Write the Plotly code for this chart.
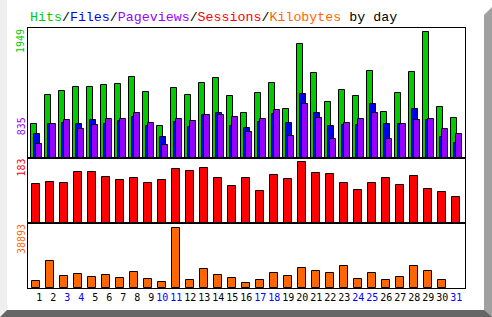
import plotly.graph_objects as go
from plotly.subplots import make_subplots

days = list(range(1, 32))
weekend_days = [3, 4, 10, 11, 17, 18, 24, 25, 31]

hits = [522, 972, 1034, 1096, 1096, 1127, 1143, 1251, 1019, 491, 1081, 972, 1158, 1236, 957,
        693, 1003, 1158, 755, 1763, 1313, 864, 1050, 957, 1344, 709, 1003, 1329, 1949, 786, 615]
files = [367, 522, 538, 522, 584, 522, 569, 631, 491, 321, 553, 476, 662, 693, 491,
         460, 553, 678, 538, 988, 693, 491, 507, 507, 833, 522, 522, 755, 584, 321, 228]
pageviews = [212, 522, 584, 445, 507, 600, 600, 693, 538, 197, 600, 569, 662, 662, 631,
             398, 600, 740, 336, 835, 615, 290, 538, 600, 693, 290, 522, 584, 600, 445, 367]
sessions = [118, 123, 120, 153, 153, 138, 129, 135, 120, 129, 162, 156, 165, 135, 111,
            135, 96, 144, 132, 183, 150, 147, 120, 99, 120, 135, 114, 141, 102, 93, 78]
kilobytes = [4765, 17644, 7985, 9273, 7341, 8629, 6697, 10560, 6053, 4121, 38893, 5409, 12492, 8629, 6697,
             3477, 5409, 9917, 7985, 13136, 11204, 9917, 14424, 6053, 9917, 5409, 7341, 14424, 11204, 5409, 0]

W, H = 492, 317
C_HITS = "#00cc00"
C_FILES = "#0000ee"
C_PAGES = "#9900ff"
C_SESS = "#ff0000"
C_KB = "#ff6600"
C_WEEKEND = "#0000ff"

# pixel geometry
PX_LEFT, PX_RIGHT = 28, 465
P1 = (28, 158)
P2 = (158, 223)
P3 = (223, 288)
UNIT = 14.0  # px per day
DAY1_CENTER = 36.3


def ydom(p):
    return [1 - p[1] / H, 1 - p[0] / H]


def outline(vals):
    return dict(color="black", width=[1 if v > 0 else 0 for v in vals])


fig = make_subplots(rows=3, cols=1, shared_xaxes=True, vertical_spacing=0)

fig.add_trace(go.Bar(x=days, y=hits, marker=dict(color=C_HITS, line=outline(hits)),
                     width=6 / UNIT, offset=-5 / UNIT), row=1, col=1)
fig.add_trace(go.Bar(x=days, y=files, marker=dict(color=C_FILES, line=outline(files)),
                     width=6 / UNIT, offset=-2 / UNIT), row=1, col=1)
fig.add_trace(go.Bar(x=days, y=pageviews, marker=dict(color=C_PAGES, line=outline(pageviews)),
                     width=6 / UNIT, offset=0), row=1, col=1)
fig.add_trace(go.Bar(x=days, y=sessions, marker=dict(color=C_SESS, line=outline(sessions)),
                     width=8 / UNIT, offset=-4 / UNIT), row=2, col=1)
fig.add_trace(go.Bar(x=days, y=kilobytes, marker=dict(color=C_KB, line=outline(kilobytes)),
                     width=8 / UNIT, offset=-4 / UNIT), row=3, col=1)

xr = [1 - (DAY1_CENTER - PX_LEFT) / UNIT, 1 + (PX_RIGHT - DAY1_CENTER) / UNIT]
ticktext = []
for d in days:
    s = str(d) if d >= 10 else "\u00a0" + str(d)
    if d in weekend_days:
        s = f"<span style='color:{C_WEEKEND}'>{s}</span>"
    ticktext.append(s)

axis_common = dict(showgrid=False, zeroline=False, showline=True, mirror=True,
                   linecolor="black", linewidth=1, ticks="", fixedrange=True)
for i, p in enumerate([P1, P2, P3], start=1):
    fig.update_xaxes(axis_common, range=xr, domain=[PX_LEFT / W, PX_RIGHT / W],
                     showticklabels=(i == 3), row=i, col=1)
    fig.update_yaxes(axis_common, domain=ydom(p), showticklabels=False, row=i, col=1)

fig.update_xaxes(tickmode="array", tickvals=days, ticktext=ticktext, tickangle=0,
                 tickfont=dict(family="DejaVu Sans Mono", size=10, color="black"), row=3, col=1)

fig.update_yaxes(range=[0, max(hits) * 130 / 125.7], row=1, col=1)
fig.update_yaxes(range=[0, max(sessions) * 65 / 60.7], row=2, col=1)
fig.update_yaxes(range=[0, max(kilobytes) * 65 / 60.4], row=3, col=1)

# decorative 3D frame
shapes = [
    dict(type="path", xref="paper", yref="paper",
         path=f"M 0 0 L {7/W} {7/H} L {7/W} 1 L 0 1 Z",
         fillcolor="#efefef", line=dict(width=0), layer="below"),
    dict(type="path", xref="paper", yref="paper",
         path=f"M 0 0 L 1 0 L 1 {7/H} L {7/W} {7/H} Z",
         fillcolor="#666666", line=dict(width=0), layer="below"),
    dict(type="path", xref="paper", yref="paper",
         path=f"M {484/W} {7/H} L 1 0 L 1 {1-7/H} L {484/W} {1-15/H} Z",
         fillcolor="#a0a0a0", line=dict(width=0), layer="below"),
]

title = (f"<span style='color:{C_HITS}'>Hits</span>/"
         f"<span style='color:{C_FILES}'>Files</span>/"
         f"<span style='color:{C_PAGES}'>Pageviews</span>/"
         f"<span style='color:{C_SESS}'>Sessions</span>/"
         f"<span style='color:{C_KB}'>Kilobytes</span> by day")

lab_font = dict(family="DejaVu Sans Mono", size=10)
annotations = [
    dict(text=title, x=PX_LEFT / W, y=1 - 17 / H, xref="paper", yref="paper",
         xanchor="left", yanchor="middle", showarrow=False,
         font=dict(family="Liberation Mono", size=13.3, color="black")),
    dict(text=str(max(hits)), x=21 / W, y=1 - 41 / H, xref="paper", yref="paper",
         textangle=-90, showarrow=False, xanchor="center", yanchor="middle",
         font=dict(lab_font, color=C_HITS)),
    dict(text=str(max(pageviews)), x=21 / W, y=1 - 126.3 / H, xref="paper", yref="paper",
         textangle=-90, showarrow=False, xanchor="center", yanchor="middle",
         font=dict(lab_font, color=C_PAGES)),
    dict(text=str(max(sessions)), x=21 / W, y=1 - 167.5 / H, xref="paper", yref="paper",
         textangle=-90, showarrow=False, xanchor="center", yanchor="middle",
         font=dict(lab_font, color=C_SESS)),
    dict(text=str(max(kilobytes)), x=21 / W, y=1 - 239 / H, xref="paper", yref="paper",
         textangle=-90, showarrow=False, xanchor="center", yanchor="middle",
         font=dict(lab_font, color=C_KB)),
]

fig.update_layout(
    width=W, height=H, margin=dict(l=0, r=0, t=0, b=0),
    paper_bgcolor="white", plot_bgcolor="white",
    barmode="overlay", showlegend=False, bargap=0,
    shapes=shapes, annotations=annotations,
)

fig.write_html("out.html", config={"displayModeBar": False})
